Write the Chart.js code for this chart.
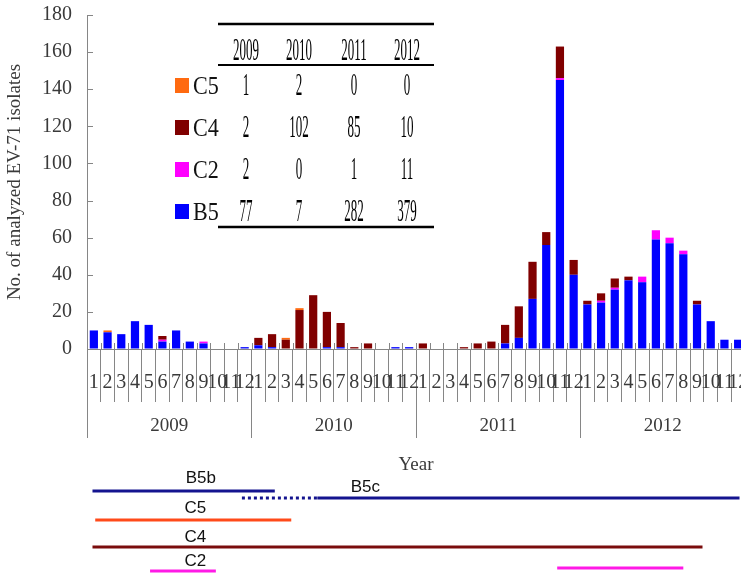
<!DOCTYPE html>
<html lang="en">
<head>
  <meta charset="UTF-8">
  <title>EV-71 isolates by month, 2009-2012</title>
  <script src="https://cdn.jsdelivr.net/npm/chart.js"></script>
  <style>
    html, body { margin: 0; padding: 0; background: #fff; overflow: hidden; }
    #wrap { position: relative; width: 746px; height: 573px; }
  </style>
</head>
<body>
  <div id="wrap"><canvas id="chart"></canvas></div>

  <script>
    // Axis labels
    const years = ['2009', '2010', '2011', '2012'];
    const monthNames = ['1', '2', '3', '4', '5', '6', '7', '8', '9', '10', '11', '12'];
    const monthLabels = years.flatMap(() => monthNames);

    // Monthly counts per genotype (Jan 2009 .. Dec 2012)
    const b5 = [10, 9, 8, 15, 13, 4, 10, 4, 3, 0, 0, 1,
                2, 1, 0, 0, 0, 1, 1, 0, 0, 0, 1, 1,
                0, 0, 0, 0, 0, 0, 3, 6, 27, 56, 145, 40,
                24, 25, 32, 37, 36, 59, 57, 51, 24, 15, 5, 5];
    const c2 = [0, 0, 0, 0, 0, 1, 0, 0, 1, 0, 0, 0,
                0, 0, 0, 0, 0, 0, 0, 0, 0, 0, 0, 0,
                0, 0, 0, 0, 0, 0, 0, 0, 0, 0, 1, 0,
                0, 1, 1, 0, 3, 5, 3, 2, 0, 0, 0, 0];
    const c4 = [0, 0, 0, 0, 0, 2, 0, 0, 0, 0, 0, 0,
                4, 7, 5, 21, 29, 19, 13, 1, 3, 0, 0, 0,
                3, 0, 0, 1, 3, 4, 10, 17, 20, 7, 17, 8,
                2, 4, 5, 2, 0, 0, 0, 0, 2, 0, 0, 0];
    const c5 = [0, 1, 0, 0, 0, 0, 0, 0, 0, 0, 0, 0,
                0, 0, 1, 1, 0, 0, 0, 0, 0, 0, 0, 0,
                0, 0, 0, 0, 0, 0, 0, 0, 0, 0, 0, 0,
                0, 0, 0, 0, 0, 0, 0, 0, 0, 0, 0, 0];

    // Yearly totals shown in the inset table
    const tableC5 = [1, 2, 0, 0];
    const tableC4 = [2, 102, 85, 10];
    const tableC2 = [2, 0, 1, 11];
    const tableB5 = [77, 7, 282, 379];

    // Lineage periods, in months from the start of Jan 2009
    const lineageNames = ['B5b', 'B5c', 'C5', 'C4', 'C2'];
    const lineageStart = [[0.4], [16.8], [0.6], [0.4], [4.6, 34.3]];
    const lineageEnd = [[13.7], [47.6], [14.9], [44.9], [9.4, 43.5]];
    const b5Transition = [11.3, 16.8]; // dotted part between B5b and B5c

    const colors = { B5: '#0000ff', C2: '#ff00ff', C4: '#800000', C5: '#ff6a10' };
    const axisGray = '#868686';
    const textGray = '#3a3a3a';
    const serif = "'Liberation Serif', 'DejaVu Serif', serif";

    // condensed text, like the tall narrow digits of the original
    function squeezed(ctx, text, x, y, size, sx) {
      ctx.save();
      ctx.translate(x, y);
      ctx.scale(sx, 1);
      ctx.font = size + 'px ' + serif;
      ctx.textAlign = 'center';
      ctx.textBaseline = 'middle';
      ctx.fillText(text, 0, 0);
      ctx.restore();
    }

    const decorations = {
      id: 'decorations',
      afterDraw(chart) {
        const ctx = chart.ctx;
        const x = chart.scales.x;
        const y = chart.scales.y;
        const area = chart.chartArea;

        // inward ticks on the y axis, cross ticks above the x axis
        ctx.save();
        ctx.strokeStyle = axisGray;
        ctx.lineWidth = 1;
        ctx.beginPath();
        y.ticks.forEach(t => {
          const py = Math.round(y.getPixelForValue(t.value)) + 0.5;
          ctx.moveTo(area.left, py);
          ctx.lineTo(area.left + 6, py);
        });
        for (let i = 0; i <= monthLabels.length; i++) {
          const px = Math.round(x.getPixelForValue(i - 0.5)) + 0.5;
          ctx.moveTo(px, area.bottom - 6);
          ctx.lineTo(px, area.bottom);
        }
        ctx.stroke();
        ctx.restore();

        // inset table
        const colX = [246, 299, 354, 407];
        const rowY = [86, 128, 170, 212];
        const rows = [['C5', tableC5], ['C4', tableC4], ['C2', tableC2], ['B5', tableB5]];
        ctx.save();
        ctx.fillStyle = '#000';
        ctx.strokeStyle = '#000';
        ctx.lineWidth = 2.5;
        ctx.beginPath(); ctx.moveTo(218, 24); ctx.lineTo(434, 24); ctx.stroke();
        ctx.lineWidth = 2;
        ctx.beginPath(); ctx.moveTo(218, 65); ctx.lineTo(434, 65); ctx.stroke();
        ctx.lineWidth = 2.5;
        ctx.beginPath(); ctx.moveTo(218, 227); ctx.lineTo(434, 227); ctx.stroke();
        years.forEach((yr, i) => squeezed(ctx, yr, colX[i], 52, 31, 0.42));
        rows.forEach(([name, vals], r) => {
          ctx.fillStyle = colors[name];
          ctx.fillRect(175, rowY[r] - 8, 14, 15);
          ctx.fillStyle = '#111';
          ctx.save();
          ctx.translate(193, rowY[r] + 1);
          ctx.scale(0.85, 1);
          ctx.font = '26px ' + serif;
          ctx.textAlign = 'left';
          ctx.textBaseline = 'middle';
          ctx.fillText(name, 0, 0);
          ctx.restore();
          ctx.fillStyle = '#000';
          vals.forEach((v, i) => squeezed(ctx, String(v), colX[i], rowY[r] + 1, 31, 0.42));
        });
        ctx.restore();

        // lineage periods under the axis
        const mx = m => x.getPixelForValue(m - 0.5);
        const lineStyle = [
          { color: '#14148f', y: [491], labelAt: 8.3, labelY: 478 },
          { color: '#14148f', y: [498], labelAt: 20.3, labelY: 487 },
          { color: '#ff4a1a', y: [520], labelAt: 7.9, labelY: 508 },
          { color: '#7a0c0c', y: [547], labelAt: 7.9, labelY: 537 },
          { color: '#ff1ae6', y: [571, 568], labelAt: 7.9, labelY: 561 }
        ];
        ctx.save();
        ctx.lineWidth = 3;
        lineageNames.forEach((name, k) => {
          const st = lineStyle[k];
          ctx.strokeStyle = st.color;
          lineageStart[k].forEach((s, j) => {
            const ly = st.y[j] !== undefined ? st.y[j] : st.y[0];
            ctx.beginPath();
            ctx.moveTo(mx(s), ly);
            ctx.lineTo(mx(lineageEnd[k][j]), ly);
            ctx.stroke();
          });
          ctx.fillStyle = '#111';
          ctx.font = "17px 'Liberation Sans', Arial, sans-serif";
          ctx.textAlign = 'center';
          ctx.textBaseline = 'middle';
          ctx.fillText(name, mx(st.labelAt), st.labelY);
        });
        ctx.strokeStyle = '#14148f';
        ctx.setLineDash([3, 3]);
        ctx.beginPath();
        ctx.moveTo(mx(b5Transition[0]), 498);
        ctx.lineTo(mx(b5Transition[1]), 498);
        ctx.stroke();
        ctx.restore();
      }
    };

    const ctx = document.getElementById('chart').getContext('2d');
    new Chart(ctx, {
      type: 'bar',
      data: {
        labels: monthLabels,
        datasets: [
          { label: 'B5', data: b5, backgroundColor: colors.B5 },
          { label: 'C2', data: c2, backgroundColor: colors.C2 },
          { label: 'C4', data: c4, backgroundColor: colors.C4 },
          { label: 'C5', data: c5, backgroundColor: colors.C5 }
        ]
      },
      options: {
        responsive: true,
        maintainAspectRatio: false,
        animation: false,
        layout: { padding: { top: 15, right: 1, bottom: 93, left: 0 } },
        datasets: { bar: { barPercentage: 0.6, categoryPercentage: 1, borderWidth: 0 } },
        plugins: { legend: { display: false }, tooltip: { enabled: false } },
        scales: {
          y: {
            stacked: true,
            min: 0,
            max: 180,
            ticks: { stepSize: 20, padding: 15, color: textGray, font: { family: serif, size: 20 } },
            grid: { drawOnChartArea: false, drawTicks: false },
            border: { color: axisGray },
            title: {
              display: true,
              text: 'No. of analyzed EV-71 isolates',
              color: textGray,
              font: { family: serif, size: 19 },
              padding: { top: 4, bottom: 4 }
            },
            afterFit: s => { s.width = 87; s.paddingTop = 0; s.paddingBottom = 0; }
          },
          x: {
            stacked: true,
            weight: 0,
            offset: true,
            ticks: {
              autoSkip: false, maxRotation: 0, minRotation: 0, padding: -31,
              color: textGray, font: { family: serif, size: 20 }
            },
            grid: { offset: true, drawOnChartArea: false, tickLength: 53, color: axisGray },
            border: { color: axisGray },
            afterFit: s => { s.height = 53; }
          },
          year: {
            type: 'category',
            position: 'bottom',
            labels: years,
            weight: 1,
            offset: true,
            ticks: { maxRotation: 0, padding: -23, color: textGray, font: { family: serif, size: 19 } },
            grid: { offset: true, drawOnChartArea: false, tickLength: 36, color: axisGray },
            border: { display: false },
            title: {
              display: true,
              text: 'Year',
              color: textGray,
              font: { family: serif, size: 19 },
              padding: { top: 4, bottom: 4 }
            },
            afterFit: s => { s.height = 78; }
          }
        }
      },
      plugins: [decorations]
    });
  </script>
</body>
</html>
